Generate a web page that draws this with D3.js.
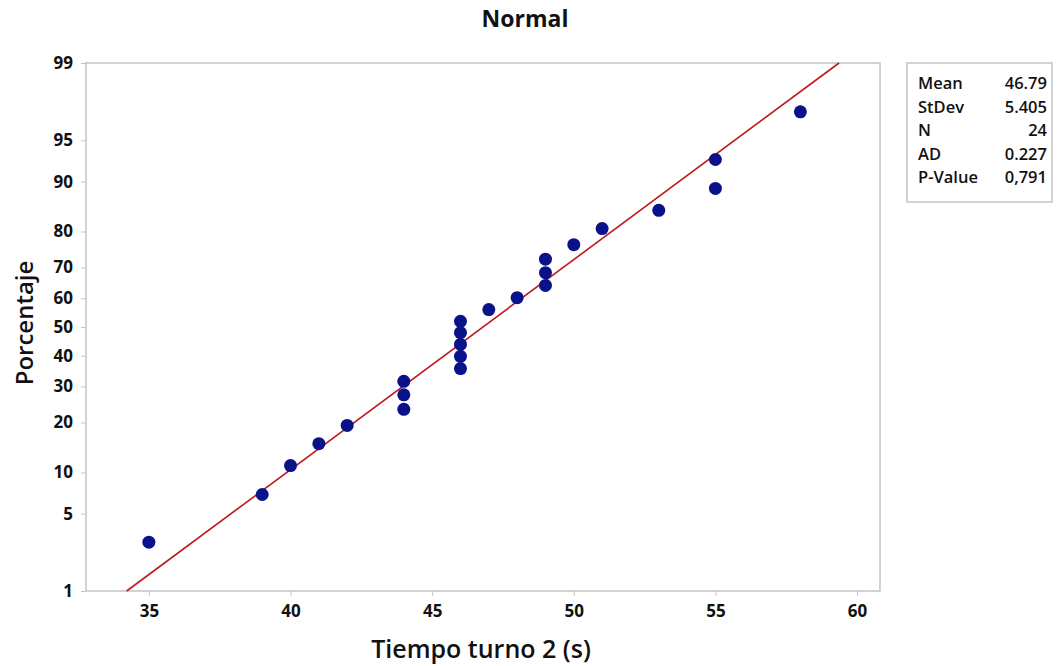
<!DOCTYPE html>
<html>
<head>
<meta charset="utf-8">
<script src="https://cdn.jsdelivr.net/npm/d3@7"></script>
<style>
  body { margin: 0; background: #fff; }
  text { font-family: "Open Sans", "Noto Sans", sans-serif; fill: #111; }
</style>
</head>
<body>
<svg id="chart" width="1057" height="666"></svg>
<script>
// data (24 points, sorted)
var tiempo = [35, 39, 40, 41, 42, 44, 44, 44, 46, 46, 46, 46, 46, 47, 48, 49, 49, 49, 50, 51, 53, 55, 55, 58];
var pct = [2.9, 7.0, 11.1, 15.2, 19.3, 23.4, 27.5, 31.6, 35.7, 39.8, 43.9, 48.0, 52.0, 56.1, 60.2, 64.3, 68.4, 72.5, 76.6, 80.7, 84.8, 88.9, 93.0, 97.1];
var pctTicks = [1, 5, 10, 20, 30, 40, 50, 60, 70, 80, 90, 95, 99];
var xTicks = [35, 40, 45, 50, 55, 60];
var statLabels = ['Mean', 'StDev', 'N', 'AD', 'P-Value'];
var statValues = ['46.79', '5.405', '24', '0.227', '0,791'];
var mean = 46.79, sd = 5.405;

// inverse normal cdf (Acklam)
function probit(p) {
  var a = [-39.69683028665376, 220.9460984245205, -275.9285104469687, 138.3577518672690, -30.66479806614716, 2.506628277459239],
      b = [-54.47609879822406, 161.5858368580409, -155.6989798598866, 66.80131188771972, -13.28068155288572],
      c = [-0.007784894002430293, -0.3223964580411365, -2.400758277161838, -2.549732539343734, 4.374664141464968, 2.938163982698783],
      d = [0.007784695709041462, 0.3224671290700398, 2.445134137142996, 3.754408661907416];
  var q, r;
  if (p < 0.02425) {
    q = Math.sqrt(-2 * Math.log(p));
    return (((((c[0]*q+c[1])*q+c[2])*q+c[3])*q+c[4])*q+c[5]) / ((((d[0]*q+d[1])*q+d[2])*q+d[3])*q+1);
  } else if (p <= 1 - 0.02425) {
    q = p - 0.5; r = q * q;
    return (((((a[0]*r+a[1])*r+a[2])*r+a[3])*r+a[4])*r+a[5])*q / (((((b[0]*r+b[1])*r+b[2])*r+b[3])*r+b[4])*r+1);
  }
  q = Math.sqrt(-2 * Math.log(1 - p));
  return -(((((c[0]*q+c[1])*q+c[2])*q+c[3])*q+c[4])*q+c[5]) / ((((d[0]*q+d[1])*q+d[2])*q+d[3])*q+1);
}

var plotLeft = 86, plotRight = 880, plotTop = 63, plotBottom = 591;

var x = d3.scaleLinear().domain([32.78, 60.81]).range([plotLeft, plotRight]);
var y = d3.scaleLinear().domain([probit(0.01), probit(0.99)]).range([plotBottom, plotTop]);

var svg = d3.select('#chart');

// frame
svg.append('rect')
  .attr('x', plotLeft).attr('y', plotTop)
  .attr('width', plotRight - plotLeft).attr('height', plotBottom - plotTop)
  .attr('fill', 'none').attr('stroke', '#c4c4c4').attr('stroke-width', 1.5);

// y axis
var yAxis = d3.axisLeft(y)
  .tickValues(pctTicks.map(function (p) { return probit(p / 100); }))
  .tickFormat(function (d, i) { return pctTicks[i]; })
  .tickSize(5).tickPadding(8);
var gy = svg.append('g').attr('transform', 'translate(' + plotLeft + ',0)').call(yAxis);
gy.select('.domain').remove();
gy.selectAll('line').attr('stroke', '#c4c4c4');
gy.selectAll('text').style('font-size', '17px').style('font-weight', 700).attr('fill', '#111');

// x axis
var xAxis = d3.axisBottom(x).tickValues(xTicks).tickSize(5).tickPadding(9);
var gx = svg.append('g').attr('transform', 'translate(0,' + plotBottom + ')').call(xAxis);
gx.select('.domain').remove();
gx.selectAll('line').attr('stroke', '#c4c4c4');
gx.selectAll('text').style('font-size', '17px').style('font-weight', 700).attr('fill', '#111');

// fitted line from 1% to 99%
svg.append('line')
  .attr('x1', x(mean + probit(0.01) * sd)).attr('y1', y(probit(0.01)))
  .attr('x2', x(mean + probit(0.99) * sd)).attr('y2', y(probit(0.99)))
  .attr('stroke', '#c0161e').attr('stroke-width', 1.6);

// points
svg.selectAll('circle.pt')
  .data(d3.zip(tiempo, pct))
  .enter().append('circle')
  .attr('class', 'pt')
  .attr('cx', function (d) { return x(d[0]); })
  .attr('cy', function (d) { return y(probit(d[1] / 100)); })
  .attr('r', 6.5)
  .attr('fill', '#0a128a');

// titles
svg.append('text')
  .attr('x', 525).attr('y', 27)
  .attr('text-anchor', 'middle')
  .style('font-size', '23px').style('font-weight', 700)
  .text('Normal');

svg.append('text')
  .attr('x', 481).attr('y', 658)
  .attr('text-anchor', 'middle')
  .style('font-size', '25px').style('font-weight', 600)
  .text('Tiempo turno 2 (s)');

svg.append('text')
  .attr('transform', 'translate(33,323) rotate(-90)')
  .attr('text-anchor', 'middle')
  .style('font-size', '24px').style('font-weight', 600)
  .text('Porcentaje');

// stats box
var box = svg.append('g').attr('transform', 'translate(907,63)');
box.append('rect')
  .attr('width', 145).attr('height', 139)
  .attr('fill', '#fff').attr('stroke', '#c4c4c4').attr('stroke-width', 1.5);
statLabels.forEach(function (s, i) {
  box.append('text').attr('x', 11).attr('y', 26 + i * 23.5)
    .style('font-size', '16.5px').style('font-weight', 600).text(s);
  box.append('text').attr('x', 140).attr('y', 26 + i * 23.5)
    .attr('text-anchor', 'end')
    .style('font-size', '16.5px').style('font-weight', 600).text(statValues[i]);
});
</script>
</body>
</html>
